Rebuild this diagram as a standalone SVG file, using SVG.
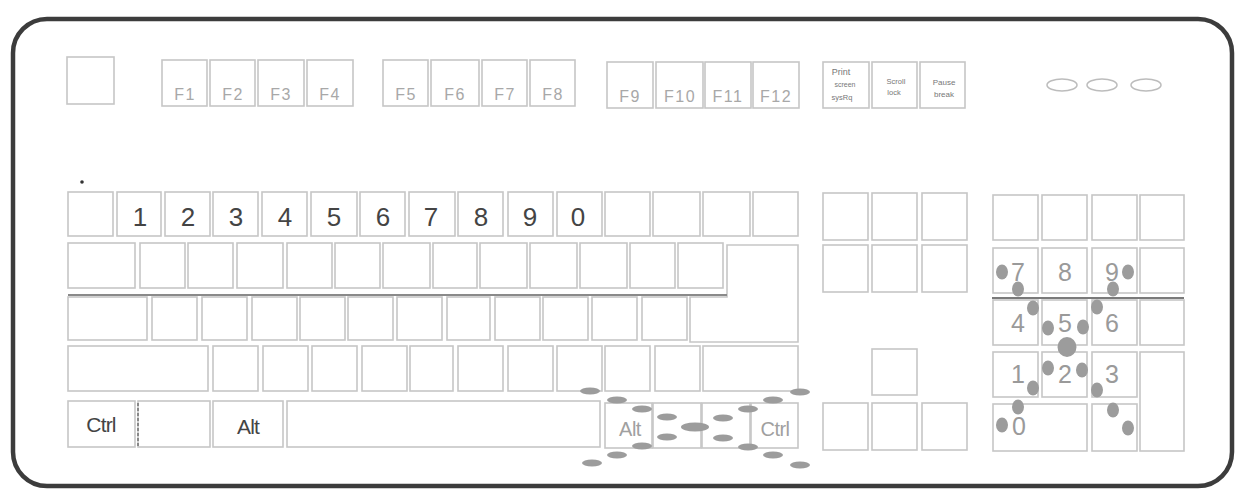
<svg xmlns="http://www.w3.org/2000/svg" width="1235" height="490" viewBox="0 0 1235 490">
<style>
  .k{fill:#fff;stroke:#c6c6c6;stroke-width:1.6}
  .t{font-family:'Liberation Sans',Arial,sans-serif;text-anchor:middle}
  .fl{font-size:16px;fill:#a8a8a8;letter-spacing:1.5px}
  .dig{font-size:26px;fill:#444}
  .np{font-size:25px;fill:#9a9a9a}
  .mod{font-size:21px;fill:#444;letter-spacing:-0.8px}
  .modr{font-size:20px;fill:#a0a0a0;letter-spacing:-0.5px}
  .sm{font-size:8px;fill:#777;text-anchor:middle}
  .d{fill:#9c9c9c}
</style>
<rect width="1235" height="490" fill="#fff"/>
<g id="case">
  <rect x="13" y="19" width="1219" height="467" rx="34" fill="none" stroke="#3c3c3c" stroke-width="4.5"/>
  <circle cx="82" cy="182" r="1.8" fill="#333"/>
</g>
<g id="function-row">
  <g id="key-esc"><rect class="k" x="67" y="57" width="47" height="47"/></g>
  <g id="key-f1"><rect class="k" x="162" y="60" width="45" height="46"/><text class="t fl" x="185" y="100">F1</text></g>
  <g id="key-f2"><rect class="k" x="210" y="60" width="45" height="46"/><text class="t fl" x="233" y="100">F2</text></g>
  <g id="key-f3"><rect class="k" x="258" y="60" width="46" height="46"/><text class="t fl" x="281" y="100">F3</text></g>
  <g id="key-f4"><rect class="k" x="307" y="60" width="46" height="46"/><text class="t fl" x="330" y="100">F4</text></g>
  <g id="key-f5"><rect class="k" x="383" y="60" width="45" height="46"/><text class="t fl" x="406" y="100">F5</text></g>
  <g id="key-f6"><rect class="k" x="431" y="60" width="48" height="46"/><text class="t fl" x="455" y="100">F6</text></g>
  <g id="key-f7"><rect class="k" x="482" y="60" width="45" height="46"/><text class="t fl" x="505" y="100">F7</text></g>
  <g id="key-f8"><rect class="k" x="530" y="60" width="45" height="46"/><text class="t fl" x="553" y="100">F8</text></g>
  <g id="key-f9"><rect class="k" x="607" y="62" width="46" height="46"/><text class="t fl" x="630" y="102">F9</text></g>
  <g id="key-f10"><rect class="k" x="656" y="62" width="47" height="46"/><text class="t fl" x="680" y="102">F10</text></g>
  <g id="key-f11"><rect class="k" x="705" y="62" width="46" height="46"/><text class="t fl" x="728" y="102">F11</text></g>
  <g id="key-f12"><rect class="k" x="753" y="62" width="46" height="46"/><text class="t fl" x="776" y="102">F12</text></g>
  <g id="key-print"><rect class="k" x="823" y="62" width="46" height="46"/>
    <text class="t sm" x="841" y="75" style="font-size:9px">Print</text>
    <text class="t sm" x="845" y="87" style="font-size:7px">screen</text>
    <text class="t sm" x="842" y="100" style="font-size:7.5px">sysRq</text></g>
  <g id="key-scroll"><rect class="k" x="872" y="62" width="45" height="46"/>
    <text class="t sm" x="896" y="84" style="font-size:7.5px">Scroll</text>
    <text class="t sm" x="894" y="95" style="font-size:7.5px">lock</text></g>
  <g id="key-pause"><rect class="k" x="920" y="62" width="45" height="46"/>
    <text class="t sm" x="944" y="85" style="font-size:8px">Pause</text>
    <text class="t sm" x="944" y="97" style="font-size:8px">break</text></g>
  <g id="leds" fill="none" stroke="#bcbcbc" stroke-width="1.5">
    <ellipse cx="1062" cy="85" rx="15" ry="6"/>
    <ellipse cx="1102" cy="85" rx="15" ry="6"/>
    <ellipse cx="1146" cy="85" rx="15" ry="6"/>
  </g>
</g>
<g id="number-row">
  <g id="key-grave"><rect class="k" x="68" y="192" width="45" height="44"/></g>
  <g id="key-1"><rect class="k" x="117" y="192" width="44" height="44"/><text class="t dig" x="140" y="226">1</text></g>
  <g id="key-2"><rect class="k" x="165" y="192" width="45" height="44"/><text class="t dig" x="188" y="226">2</text></g>
  <g id="key-3"><rect class="k" x="213" y="192" width="45" height="44"/><text class="t dig" x="236" y="226">3</text></g>
  <g id="key-4"><rect class="k" x="262" y="192" width="45" height="44"/><text class="t dig" x="285" y="226">4</text></g>
  <g id="key-5"><rect class="k" x="311" y="192" width="46" height="44"/><text class="t dig" x="334" y="226">5</text></g>
  <g id="key-6"><rect class="k" x="360" y="192" width="45" height="44"/><text class="t dig" x="383" y="226">6</text></g>
  <g id="key-7"><rect class="k" x="409" y="192" width="46" height="44"/><text class="t dig" x="431" y="226">7</text></g>
  <g id="key-8"><rect class="k" x="458" y="192" width="45" height="44"/><text class="t dig" x="481" y="226">8</text></g>
  <g id="key-9"><rect class="k" x="508" y="192" width="45" height="44"/><text class="t dig" x="530" y="226">9</text></g>
  <g id="key-0"><rect class="k" x="557" y="192" width="45" height="44"/><text class="t dig" x="578" y="226">0</text></g>
  <g id="key-minus"><rect class="k" x="605" y="192" width="45" height="44"/></g>
  <g id="key-equal"><rect class="k" x="653" y="192" width="47" height="44"/></g>
  <g id="key-yen"><rect class="k" x="703" y="192" width="47" height="44"/></g>
  <g id="key-backspace"><rect class="k" x="753" y="192" width="45" height="44"/></g>
</g>
<g id="tab-row">
  <g id="key-tab"><rect class="k" x="68" y="243" width="67" height="45"/></g>
  <g id="key-q"><rect class="k" x="140" y="243" width="45" height="45"/></g>
  <g id="key-w"><rect class="k" x="188" y="243" width="45" height="45"/></g>
  <g id="key-e"><rect class="k" x="237" y="243" width="46" height="45"/></g>
  <g id="key-r"><rect class="k" x="287" y="243" width="45" height="45"/></g>
  <g id="key-t"><rect class="k" x="335" y="243" width="45" height="45"/></g>
  <g id="key-y"><rect class="k" x="383" y="243" width="47" height="45"/></g>
  <g id="key-u"><rect class="k" x="433" y="243" width="44" height="45"/></g>
  <g id="key-i"><rect class="k" x="480" y="243" width="47" height="45"/></g>
  <g id="key-o"><rect class="k" x="530" y="243" width="47" height="45"/></g>
  <g id="key-p"><rect class="k" x="580" y="243" width="47" height="45"/></g>
  <g id="key-at"><rect class="k" x="630" y="243" width="45" height="45"/></g>
  <g id="key-bracket"><rect class="k" x="678" y="243" width="45" height="45"/></g>
  <g id="key-enter"><path class="k" d="M727,245 H798 V342 H690 V297 H727 Z"/></g>
</g>
<g id="caps-row">
  <g id="key-caps"><rect class="k" x="68" y="297" width="79" height="43"/></g>
  <g id="key-a"><rect class="k" x="152" y="297" width="45" height="43"/></g>
  <g id="key-s"><rect class="k" x="202" y="297" width="45" height="43"/></g>
  <g id="key-d"><rect class="k" x="252" y="297" width="45" height="43"/></g>
  <g id="key-f"><rect class="k" x="300" y="297" width="45" height="43"/></g>
  <g id="key-g"><rect class="k" x="348" y="297" width="45" height="43"/></g>
  <g id="key-h"><rect class="k" x="397" y="297" width="45" height="43"/></g>
  <g id="key-j"><rect class="k" x="447" y="297" width="43" height="43"/></g>
  <g id="key-k"><rect class="k" x="495" y="297" width="45" height="43"/></g>
  <g id="key-l"><rect class="k" x="543" y="297" width="45" height="43"/></g>
  <g id="key-semicolon"><rect class="k" x="592" y="297" width="45" height="43"/></g>
  <g id="key-colon"><rect class="k" x="642" y="297" width="45" height="43"/></g>
  <line x1="68" y1="295" x2="727" y2="295" stroke="#8a8a8a" stroke-width="2"/>
</g>
<g id="shift-row">
  <g id="key-lshift"><rect class="k" x="68" y="346" width="140" height="45"/></g>
  <g id="key-z"><rect class="k" x="213" y="346" width="45" height="45"/></g>
  <g id="key-x"><rect class="k" x="263" y="346" width="45" height="45"/></g>
  <g id="key-c"><rect class="k" x="312" y="346" width="45" height="45"/></g>
  <g id="key-v"><rect class="k" x="362" y="346" width="45" height="45"/></g>
  <g id="key-b"><rect class="k" x="410" y="346" width="43" height="45"/></g>
  <g id="key-n"><rect class="k" x="458" y="346" width="45" height="45"/></g>
  <g id="key-m"><rect class="k" x="508" y="346" width="45" height="45"/></g>
  <g id="key-comma"><rect class="k" x="557" y="346" width="45" height="45"/></g>
  <g id="key-period"><rect class="k" x="605" y="346" width="45" height="45"/></g>
  <g id="key-slash"><rect class="k" x="655" y="346" width="45" height="45"/></g>
  <g id="key-rshift"><rect class="k" x="703" y="346" width="95" height="45"/></g>
</g>
<g id="bottom-row">
  <g id="key-lctrl"><rect class="k" x="68" y="401" width="67" height="46"/><text class="t mod" x="101" y="432">Ctrl</text></g>
  <g id="key-lwin"><rect class="k" x="138" y="401" width="72" height="46"/><line x1="138" y1="403" x2="138" y2="446" stroke="#888" stroke-width="2" stroke-dasharray="3 2"/></g>
  <g id="key-lalt"><rect class="k" x="213" y="401" width="70" height="46"/><text class="t mod" x="248" y="434">Alt</text></g>
  <g id="key-space"><rect class="k" x="287" y="401" width="313" height="46"/></g>
  <g id="key-ralt"><rect class="k" x="605" y="403" width="47" height="45"/><text class="t modr" x="630" y="436">Alt</text></g>
  <g id="key-rwin"><rect class="k" x="653" y="403" width="48" height="45"/></g>
  <g id="key-menu"><rect class="k" x="702" y="403" width="48" height="45"/></g>
  <g id="key-rctrl"><rect class="k" x="751" y="403" width="47" height="45"/><text class="t modr" x="775" y="436">Ctrl</text></g>
</g>
<g id="nav-cluster">
  <g id="key-insert"><rect class="k" x="823" y="193" width="45" height="47"/></g>
  <g id="key-home"><rect class="k" x="872" y="193" width="45" height="47"/></g>
  <g id="key-pageup"><rect class="k" x="922" y="193" width="45" height="47"/></g>
  <g id="key-delete"><rect class="k" x="823" y="245" width="45" height="47"/></g>
  <g id="key-end"><rect class="k" x="872" y="245" width="45" height="47"/></g>
  <g id="key-pagedown"><rect class="k" x="922" y="245" width="45" height="47"/></g>
  <g id="key-up"><rect class="k" x="872" y="349" width="45" height="46"/></g>
  <g id="key-left"><rect class="k" x="823" y="403" width="45" height="47"/></g>
  <g id="key-down"><rect class="k" x="872" y="403" width="45" height="47"/></g>
  <g id="key-right"><rect class="k" x="922" y="403" width="45" height="47"/></g>
</g>
<g id="numpad">
  <g id="key-numlock"><rect class="k" x="993" y="195" width="45" height="45"/></g>
  <g id="key-divide"><rect class="k" x="1042" y="195" width="45" height="45"/></g>
  <g id="key-multiply"><rect class="k" x="1092" y="195" width="45" height="45"/></g>
  <g id="key-subtract"><rect class="k" x="1140" y="195" width="44" height="45"/></g>
  <g id="key-np7"><rect class="k" x="993" y="248" width="45" height="45"/><text class="t np" x="1018" y="281">7</text></g>
  <g id="key-np8"><rect class="k" x="1042" y="248" width="45" height="45"/><text class="t np" x="1065" y="281">8</text></g>
  <g id="key-np9"><rect class="k" x="1092" y="248" width="45" height="45"/><text class="t np" x="1112" y="281">9</text></g>
  <g id="key-add"><rect class="k" x="1140" y="248" width="44" height="45"/></g>
  <g id="key-np4"><rect class="k" x="993" y="300" width="45" height="45"/><text class="t np" x="1018" y="332">4</text></g>
  <g id="key-np5"><rect class="k" x="1042" y="300" width="45" height="45"/><text class="t np" x="1065" y="332">5</text></g>
  <g id="key-np6"><rect class="k" x="1092" y="300" width="45" height="45"/><text class="t np" x="1112" y="332">6</text></g>
  <g id="key-npright"><rect class="k" x="1140" y="300" width="44" height="45"/></g>
  <g id="key-np1"><rect class="k" x="993" y="352" width="45" height="45"/><text class="t np" x="1018" y="383">1</text></g>
  <g id="key-np2"><rect class="k" x="1042" y="352" width="45" height="45"/><text class="t np" x="1065" y="383">2</text></g>
  <g id="key-np3"><rect class="k" x="1092" y="352" width="45" height="45"/><text class="t np" x="1112" y="383">3</text></g>
  <g id="key-npenter"><rect class="k" x="1140" y="352" width="44" height="99"/></g>
  <g id="key-np0"><rect class="k" x="993" y="404" width="94" height="47"/><text class="t np" x="1019" y="435">0</text></g>
  <g id="key-npdot"><rect class="k" x="1092" y="404" width="45" height="47"/></g>
  <line x1="992" y1="298" x2="1184" y2="298" stroke="#7a7a7a" stroke-width="1.8"/>
</g>
<g id="connectors">
  <g id="alt-ctrl-marks" class="d">
    <ellipse cx="590" cy="391" rx="10" ry="3.5"/>
    <ellipse cx="617" cy="400" rx="10" ry="3.5"/>
    <ellipse cx="642" cy="409" rx="10" ry="3.5"/>
    <ellipse cx="667" cy="417" rx="10" ry="3.5"/>
    <ellipse cx="695" cy="427" rx="14" ry="4.5"/>
    <ellipse cx="667" cy="437" rx="10" ry="3.5"/>
    <ellipse cx="642" cy="446" rx="10" ry="3.5"/>
    <ellipse cx="617" cy="455" rx="10" ry="3.5"/>
    <ellipse cx="592" cy="463" rx="10" ry="3.5"/>
    <ellipse cx="800" cy="392" rx="10" ry="3.5"/>
    <ellipse cx="773" cy="400" rx="10" ry="3.5"/>
    <ellipse cx="748" cy="409" rx="10" ry="3.5"/>
    <ellipse cx="723" cy="418" rx="10" ry="3.5"/>
    <ellipse cx="723" cy="438" rx="10" ry="3.5"/>
    <ellipse cx="748" cy="447" rx="10" ry="3.5"/>
    <ellipse cx="773" cy="455" rx="10" ry="3.5"/>
    <ellipse cx="800" cy="465" rx="10" ry="3.5"/>
  </g>
  <g id="numpad-marks" class="d">
    <ellipse cx="1002" cy="272" rx="6" ry="7.5"/>
    <ellipse cx="1018" cy="289" rx="6" ry="7.5"/>
    <ellipse cx="1033" cy="308" rx="6" ry="7.5"/>
    <ellipse cx="1048" cy="328" rx="6" ry="7.5"/>
    <ellipse cx="1067" cy="347" rx="9.5" ry="10"/>
    <ellipse cx="1048" cy="368" rx="6" ry="7.5"/>
    <ellipse cx="1033" cy="388" rx="6" ry="7.5"/>
    <ellipse cx="1018" cy="407" rx="6" ry="7.5"/>
    <ellipse cx="1002" cy="425" rx="6" ry="7.5"/>
    <ellipse cx="1128" cy="272" rx="6" ry="7.5"/>
    <ellipse cx="1113" cy="289" rx="6" ry="7.5"/>
    <ellipse cx="1097" cy="307" rx="6" ry="7.5"/>
    <ellipse cx="1083" cy="327" rx="6" ry="7.5"/>
    <ellipse cx="1082" cy="370" rx="6" ry="7.5"/>
    <ellipse cx="1097" cy="390" rx="6" ry="7.5"/>
    <ellipse cx="1113" cy="410" rx="6" ry="7.5"/>
    <ellipse cx="1128" cy="428" rx="6" ry="7.5"/>
  </g>
</g>
</svg>
